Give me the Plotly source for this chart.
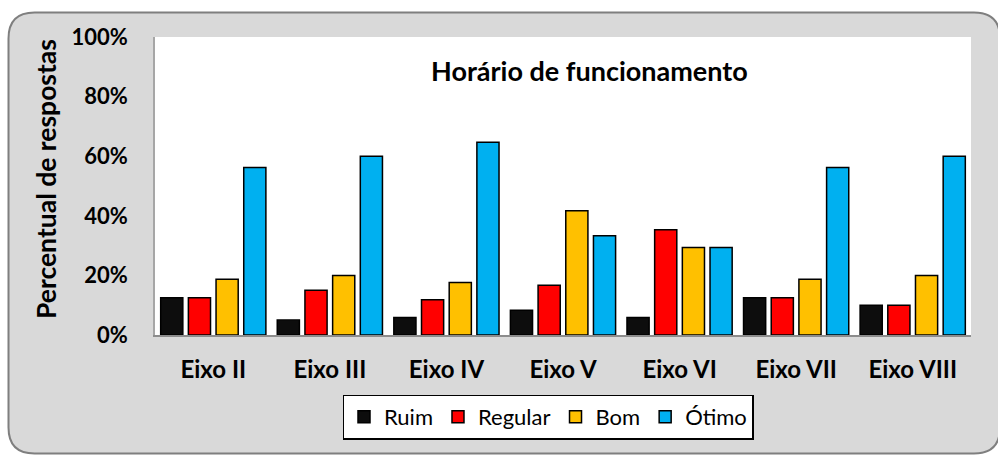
import plotly.graph_objects as go

categories = ["Eixo II", "Eixo III", "Eixo IV", "Eixo V", "Eixo VI", "Eixo VII", "Eixo VIII"]
ruim = [0.125, 0.05, 0.059, 0.083, 0.059, 0.125, 0.10]
regular = [0.125, 0.15, 0.118, 0.167, 0.353, 0.125, 0.10]
bom = [0.1875, 0.20, 0.176, 0.417, 0.294, 0.1875, 0.20]
otimo = [0.5625, 0.60, 0.647, 0.333, 0.294, 0.5625, 0.60]
series_names = ["Ruim", "Regular", "Bom", "Ótimo"]
colors = ["#0d0d0d", "#ff0000", "#ffc000", "#00b0f0"]
ytick_vals = [0, 0.2, 0.4, 0.6, 0.8, 1.0]
ytick_text = ["0%", "20%", "40%", "60%", "80%", "100%"]

FONT = "Lato, 'Open Sans', sans-serif"

fig = go.Figure()
for name, vals, col in zip(series_names, [ruim, regular, bom, otimo], colors):
    fig.add_trace(go.Bar(x=categories, y=vals, name=name,
                         marker=dict(color=col, line=dict(color="#000000", width=1.5))))

W, H = 998, 455
L, R, T, B = 155, 971, 37, 335
pw, ph = R - L, B - T

def px(x):
    return (x - L) / pw

def py(y):
    return (B - y) / ph

# rounded outer box (screen coords)
x0, x1, y0, y1, r = 8.5, 1000, 12.5, 453.5, 26
path = (f"M {px(x0)},{py(y0+r)} Q {px(x0)},{py(y0)} {px(x0+r)},{py(y0)} "
        f"L {px(x1-r)},{py(y0)} Q {px(x1)},{py(y0)} {px(x1)},{py(y0+r)} "
        f"L {px(x1)},{py(y1-r)} Q {px(x1)},{py(y1)} {px(x1-r)},{py(y1)} "
        f"L {px(x0+r)},{py(y1)} Q {px(x0)},{py(y1)} {px(x0)},{py(y1-r)} Z")
fig.add_shape(type="path", path=path, xref="paper", yref="paper",
              fillcolor="#d9d9d9", line=dict(color="#7f7f7f", width=2), layer="below")
fig.add_shape(type="rect", xref="paper", yref="paper", x0=0, x1=1, y0=0, y1=1,
              fillcolor="#ffffff", line=dict(width=0), layer="below")

fig.add_annotation(text="<b>Horário de funcionamento</b>", xref="paper", yref="paper",
                   x=px(589), y=py(70), showarrow=False,
                   font=dict(family=FONT, size=27, color="#000000"),
                   xanchor="center", yanchor="middle")
fig.add_annotation(text="<b>Percentual de respostas</b>", xref="paper", yref="paper",
                   x=px(46), y=py(179), showarrow=False, textangle=-90,
                   font=dict(family=FONT, size=26.5, color="#000000"),
                   xanchor="center", yanchor="middle")

fig.update_layout(
    width=W, height=H,
    margin=dict(l=L, r=W - R, t=T, b=H - B, pad=0),
    paper_bgcolor="#ffffff",
    plot_bgcolor="rgba(0,0,0,0)",
    barmode="group", bargap=0.05, bargroupgap=0.2,
    font=dict(family=FONT, color="#000000"),
    showlegend=True,
    legend=dict(orientation="h", x=px(548), y=py(417), xanchor="center", yanchor="middle",
                bgcolor="#ffffff", bordercolor="#000000", borderwidth=1.5,
                font=dict(family=FONT, size=22, color="#000000"),
                itemwidth=30, traceorder="normal"),
)
fig.update_xaxes(showline=True, linecolor="#8c8c8c", linewidth=2, showgrid=False,
                 ticks="outside", ticklen=12, tickcolor="rgba(0,0,0,0)",
                 tickfont=dict(family=FONT, size=24, color="#000000", weight="bold"))
fig.update_yaxes(range=[0, 1], tickvals=ytick_vals, ticktext=ytick_text,
                 showline=True, linecolor="#a6a6a6", linewidth=1.5, showgrid=False,
                 zeroline=False, ticks="outside", ticklen=21, tickcolor="rgba(0,0,0,0)",
                 tickfont=dict(family=FONT, size=22, color="#000000", weight="bold"))

fig.write_html("out.html", config={"displayModeBar": False},
               post_script="document.body.style.margin='0';document.body.style.overflow='hidden';")
